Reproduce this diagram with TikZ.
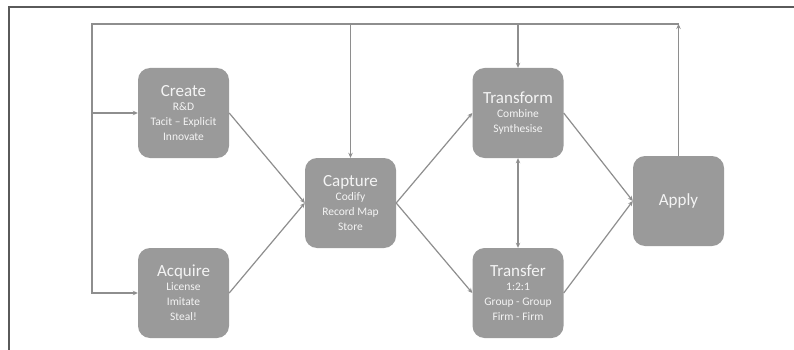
\documentclass[tikz,border=0pt]{standalone}
\usepackage{fontspec}
\setmainfont{Carlito}
\usetikzlibrary{arrows.meta}
\definecolor{boxgray}{HTML}{9A9A9A}
\definecolor{linegray}{HTML}{8E8E8E}
\definecolor{framegray}{HTML}{5A5A5A}
\definecolor{textwhite}{HTML}{F4F4F4}
\newcommand{\ttl}[1]{{\fontsize{17}{17}\selectfont #1}\\[-1pt]}
\tikzset{
  stage/.style={rectangle, rounded corners=12pt, fill=boxgray,
    minimum width=91pt, minimum height=90pt, inner sep=0pt,
    align=center, text=textwhite,
    font=\fontsize{11.5}{15}\selectfont},
  link/.style={draw=linegray, line width=1.2pt},
  arr/.style={link, -{Stealth[length=5pt,width=4.5pt]}},
  darr/.style={link, {Stealth[length=5pt,width=4.5pt]}-{Stealth[length=5pt,width=4.5pt]}}
}
\begin{document}
\begin{tikzpicture}[x=1pt, y=-1pt]
  \useasboundingbox (0,0) rectangle (794,350);
  \fill[white] (0,0) rectangle (794,350);

  % page frame (top and left edges)
  \draw[framegray, line width=2pt] (794,7) -- (9,7) -- (9,350);

  % stages
  \node[stage] (create)    at (183.5,113) {\ttl{Create}R\&D\\Tacit – Explicit\\Innovate};
  \node[stage] (acquire)   at (183.5,293) {\ttl{Acquire}License\\Imitate\\Steal!};
  \node[stage] (capture)   at (350.5,203) {\ttl{Capture}Codify\\Record Map\\Store};
  \node[stage] (transform) at (518,113)   {\ttl{Transform}Combine\\Synthesise};
  \node[stage] (transfer)  at (518,293)   {\ttl{Transfer}1:2:1\\Group - Group\\Firm - Firm};
  \node[stage] (apply)     at (678.5,201) {{\fontsize{17}{17}\selectfont Apply}};

  % feedback loop corners
  \coordinate (fbL) at (92,24);
  \coordinate (fbR) at (apply.north |- fbL);

  % feedback loop from Apply back to the start
  \draw[arr] (apply.north) -- (fbR);
  \draw[arr] (fbR) -- (fbL) |- (acquire.west);
  \draw[arr] (fbL |- create.west) -- (create.west);
  \draw[arr] (capture.north |- fbL) -- (capture.north);
  \draw[arr] (transform.north |- fbL) -- (transform.north);

  % main flow
  \draw[arr] (create.east) -- (capture.west);
  \draw[arr] (acquire.east) -- (capture.west);
  \draw[arr] (capture.east) -- (transform.west);
  \draw[arr] (capture.east) -- (transfer.west);
  \draw[darr] (transform.south) -- (transfer.north);
  \draw[arr] (transform.east) -- (apply.west);
  \draw[arr] (transfer.east) -- (apply.west);
\end{tikzpicture}
\end{document}
